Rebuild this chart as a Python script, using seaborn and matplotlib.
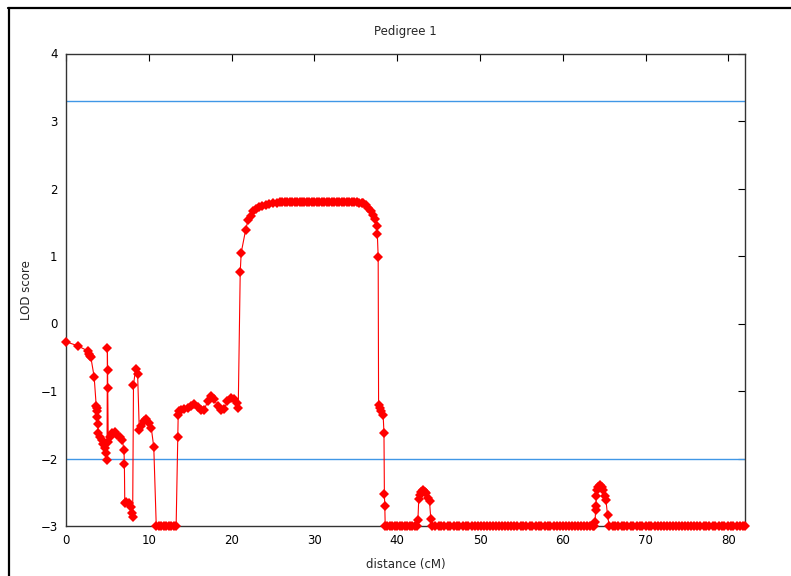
import numpy as np
import pandas as pd
import matplotlib
matplotlib.use("Agg")
import matplotlib.pyplot as plt
import seaborn as sns
from matplotlib.lines import Line2D

# LOD score along the chromosome, segment by segment
prox_cm  = [0.0, 1.4, 2.7, 2.8, 2.9, 3.0, 3.4, 3.65, 3.7, 3.75, 3.8, 3.85, 3.9, 4.1, 4.3,
            4.5, 4.7, 4.85, 4.95, 5.0, 5.02, 5.04, 5.1, 5.3, 5.6, 5.9, 6.2, 6.5, 6.8, 7.0,
            7.05, 7.1, 7.3, 7.6, 7.8, 7.95, 8.05, 8.15, 8.4, 8.65, 8.85, 9.1, 9.4, 9.7,
            10.0, 10.3, 10.6]
prox_lod = [-0.27, -0.33, -0.41, -0.45, -0.48, -0.50, -0.79, -1.22, -1.25, -1.30, -1.38,
            -1.49, -1.62, -1.68, -1.72, -1.78, -1.85, -1.92, -2.02, -0.37, -0.69, -0.95,
            -1.75, -1.68, -1.62, -1.60, -1.65, -1.68, -1.72, -1.88, -2.08, -2.66, -2.64,
            -2.66, -2.72, -2.80, -2.86, -0.91, -0.68, -0.75, -1.58, -1.52, -1.45, -1.42,
            -1.48, -1.55, -1.83]

gap1_cm  = [10.9, 11.2, 11.5, 11.8, 12.1, 12.4, 12.7, 13.0, 13.3]

rise_cm  = [13.5, 13.55, 13.7, 13.9, 14.3, 14.7, 15.1, 15.5, 15.9, 16.3, 16.7, 17.1, 17.5,
            17.9, 18.3, 18.7, 19.1, 19.5, 19.9, 20.3, 20.6, 20.8, 21.04, 21.16, 21.7, 22.0,
            22.3, 22.6, 22.9, 23.3, 23.7, 24.1, 24.5, 25.0]
rise_lod = [-1.68, -1.35, -1.30, -1.28, -1.27, -1.25, -1.22, -1.19, -1.24, -1.28, -1.28,
            -1.15, -1.07, -1.12, -1.22, -1.28, -1.27, -1.15, -1.10, -1.12, -1.18, -1.25,
            0.76, 1.05, 1.39, 1.54, 1.60, 1.66, 1.69, 1.72, 1.74, 1.76, 1.77, 1.78]

plateau_cm  = [25.5, 25.8, 26.1, 26.4, 26.7, 27.0, 27.3, 27.6, 27.9, 28.2, 28.5, 28.8, 29.1,
               29.4, 29.7, 30.0, 30.3, 30.6, 30.9, 31.2, 31.5, 31.8, 32.1, 32.4, 32.7, 33.0,
               33.3, 33.6, 33.9, 34.2, 34.5, 34.8, 35.1, 35.4, 35.7]
plateau_lod = [1.79, 1.795, 1.795, 1.795, 1.795, 1.795, 1.795, 1.795, 1.795, 1.795, 1.795,
               1.795, 1.795, 1.795, 1.795, 1.795, 1.795, 1.795, 1.795, 1.795, 1.795, 1.795,
               1.795, 1.795, 1.795, 1.795, 1.795, 1.795, 1.795, 1.795, 1.795, 1.795, 1.795,
               1.79, 1.79]

drop_cm  = [35.9, 36.2, 36.5, 36.8, 37.1, 37.3, 37.5, 37.6, 37.7, 37.75, 37.9, 38.1, 38.3,
            38.4, 38.45, 38.5]
drop_lod = [1.78, 1.75, 1.71, 1.67, 1.61, 1.55, 1.44, 1.32, 0.99, -1.21, -1.25, -1.30,
            -1.36, -1.62, -2.53, -2.71]

gap2_cm  = [38.55, 38.8, 39.1, 39.4, 39.7, 40.0, 40.3, 40.6, 40.9, 41.2, 41.5, 41.8, 42.1, 42.4]

bump1_cm  = [42.5, 42.6, 42.7, 42.9, 43.1, 43.3, 43.5, 43.7, 43.9, 44.05]
bump1_lod = [-2.91, -2.60, -2.54, -2.49, -2.47, -2.49, -2.51, -2.58, -2.63, -2.89]

gap3_cm  = [44.2, 44.6, 45.0, 45.3, 45.7, 46.1, 46.4, 46.8, 47.2, 47.5, 47.9, 48.3, 48.6,
            49.0, 49.4, 49.7, 50.1, 50.5, 50.8, 51.2, 51.6, 51.9, 52.3, 52.7, 53.0, 53.4,
            53.8, 54.1, 54.5, 54.9, 55.2, 55.6, 56.0, 56.3, 56.7, 57.1, 57.4, 57.8, 58.2,
            58.5, 58.9, 59.3, 59.6, 60.0, 60.4, 60.7, 61.1, 61.5, 61.8, 62.2, 62.6, 62.9,
            63.3, 63.6, 63.8]

bump2_cm  = [63.9, 63.95, 64.0, 64.05, 64.1, 64.3, 64.5, 64.7, 64.9, 65.05, 65.2, 65.4]
bump2_lod = [-2.94, -2.76, -2.70, -2.55, -2.47, -2.42, -2.39, -2.42, -2.47, -2.55, -2.61, -2.84]

gap4_cm  = [65.6, 66.0, 66.3, 66.7, 67.1, 67.4, 67.8, 68.2, 68.5, 68.9, 69.3, 69.6, 70.0,
            70.4, 70.7, 71.1, 71.5, 71.8, 72.2, 72.6, 72.9, 73.3, 73.7, 74.0, 74.4, 74.8,
            75.1, 75.5, 75.9, 76.2, 76.6, 77.0, 77.3, 77.7, 78.1, 78.4, 78.8, 79.2, 79.5,
            79.9, 80.3, 80.6, 81.0, 81.4, 81.7, 82.0]

LOD_FLOOR = -3.0
thresholds = [3.3, -2.0]
x_ticks = [0, 10, 20, 30, 40, 50, 60, 70, 80]
y_ticks = [-3, -2, -1, 0, 1, 2, 3, 4]

xs = (prox_cm + gap1_cm + rise_cm + plateau_cm + drop_cm + gap2_cm + bump1_cm
      + gap3_cm + bump2_cm + gap4_cm)
ys = (prox_lod + [LOD_FLOOR] * len(gap1_cm) + rise_lod + plateau_lod + drop_lod
      + [LOD_FLOOR] * len(gap2_cm) + bump1_lod + [LOD_FLOOR] * len(gap3_cm)
      + bump2_lod + [LOD_FLOOR] * len(gap4_cm))
df = pd.DataFrame({"distance": xs, "lod": ys, "order": np.arange(len(xs))})

sns.set_style("white")
plt.rcParams["font.family"] = ["DejaVu Sans"]

fig = plt.figure(figsize=(7.91, 5.76), dpi=100)
ax = fig.add_axes([66 / 791, 1 - 526 / 576, (745 - 66) / 791, (526 - 53.5) / 576])

for t in thresholds:
    ax.axhline(t, color="#4097e6", lw=1.0, zorder=1)

sns.lineplot(data=df, x="distance", y="lod", sort=False, estimator=None,
             color="red", lw=0.8, marker="D", markersize=4.6, markeredgewidth=0,
             ax=ax, zorder=3, clip_on=False)

ax.set_xlim(0, 82)
ax.set_ylim(-3, 4)
ax.set_xticks(x_ticks)
ax.set_yticks(y_ticks)
ax.tick_params(direction="in", length=5, width=0.8, top=True, right=True,
               labelsize=8.5, colors="black", pad=6)
for s in ax.spines.values():
    s.set_visible(True)
    s.set_color("#333333")
    s.set_linewidth(1.0)

ax.set_title("Pedigree 1", fontsize=8.5, pad=13)
ax.set_xlabel("distance (cM)", fontsize=8.5, labelpad=8)
ax.set_ylabel("LOD score", fontsize=8.5, labelpad=5)

# screenshot frame
fig.add_artist(Line2D([8 / 791, 1], [1 - 7.5 / 576] * 2, transform=fig.transFigure,
                      color="black", lw=1.6))
fig.add_artist(Line2D([8.5 / 791] * 2, [0, 1 - 7.5 / 576], transform=fig.transFigure,
                      color="black", lw=1.6))

fig.savefig("out.png", dpi=100)
